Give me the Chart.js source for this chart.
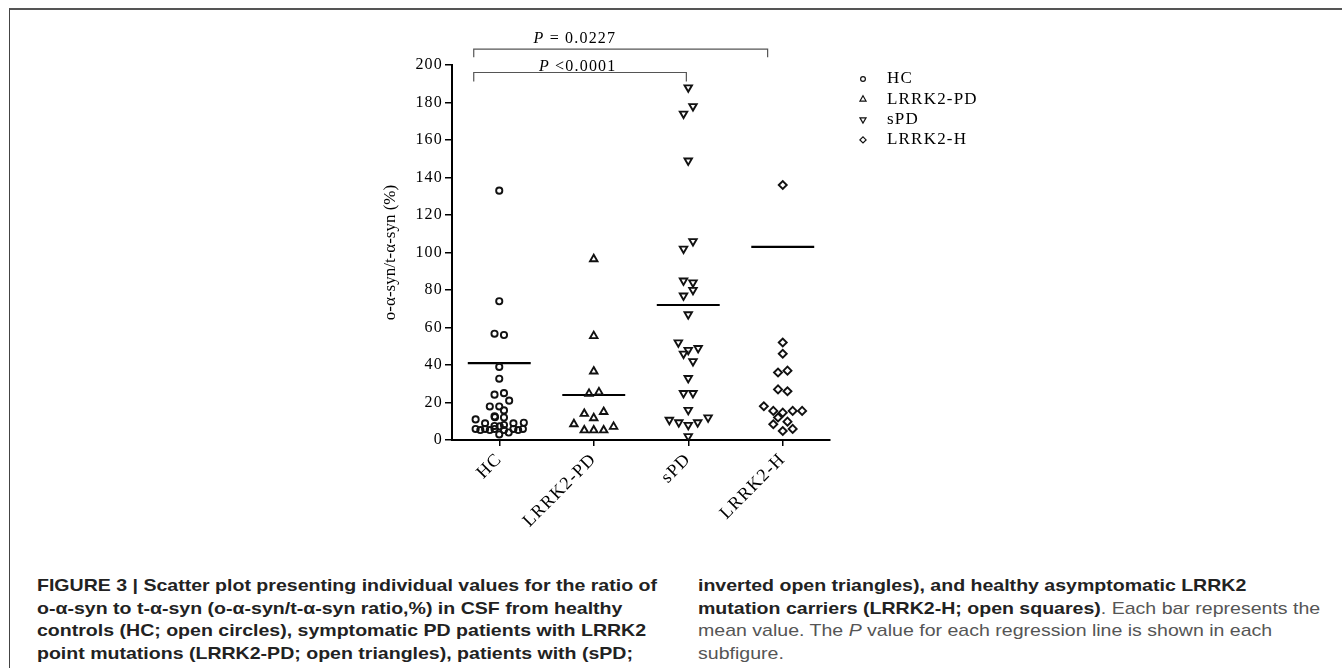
<!DOCTYPE html>
<html>
<head>
<meta charset="utf-8">
<script src="https://cdn.jsdelivr.net/npm/chart.js@4.4.1/dist/chart.umd.min.js"></script>
<style>
  html, body { margin: 0; padding: 0; background: #fff; overflow: hidden; }
  body { width: 1342px; height: 668px; position: relative; }
  #frame { position: absolute; left: 9px; top: 8px; width: 1400px; height: 700px;
           border-top: 2px solid #555; border-left: 1px solid #444; }
  #chartBox { position: absolute; left: 0; top: 0; }
  .cap { position: absolute; top: 575px; white-space: nowrap; display: inline-block;
         font-family: "Liberation Sans Narrow", "Liberation Sans", Arial, sans-serif;
         font-size: 17px; line-height: 22.5px; color: #555; transform-origin: 0 0; }
  .cap b { color: #222; }
</style>
</head>
<body>
<div id="frame"></div>
<div id="chartBox"><canvas id="scatterChart" width="1342" height="545"></canvas></div>

<div class="cap" id="cap1" style="left:37px">
<b>FIGURE 3 | Scatter plot presenting individual values for the ratio of</b><br>
<b>o-α-syn to t-α-syn (o-α-syn/t-α-syn ratio,%) in CSF from healthy</b><br>
<b>controls (HC; open circles), symptomatic PD patients with LRRK2</b><br>
<b>point mutations (LRRK2-PD; open triangles), patients with (sPD;</b>
</div>
<div class="cap" id="cap2" style="left:698px">
<b>inverted open triangles), and healthy asymptomatic LRRK2</b><br>
<b>mutation carriers (LRRK2-H; open squares)</b>. Each bar represents the<br>
mean value. The <i>P</i> value for each regression line is shown in each<br>
subfigure.
</div>

<script>
// values
var categories = ['HC', 'LRRK2-PD', 'sPD', 'LRRK2-H'];

var hcValues = [133, 74, 56.7, 56, 39, 32.7, 24.2, 25, 21, 17.9, 17.9, 15.8, 12.6, 12.2, 12, 11,
    8.9, 8.9, 9.2, 8, 7.5, 7.3, 5.9, 5.3, 5.9, 5.3, 5.9, 3, 5.3, 4, 5.9, 5.3, 5.9];
var hcJitter = [0, 0, -0.05, 0.05, 0, 0, -0.05, 0.05, 0.105, -0.1, 0, 0.05, -0.05, -0.045, 0.05, -0.25,
    -0.15, 0.15, 0.26, 0.05, -0.05, 0.005, -0.25, -0.2, -0.15, -0.1, -0.05, 0, 0.05, 0.1, 0.15, 0.2, 0.25];

var lrrk2pdValues = [96.5, 55.5, 36.6, 24.7, 25.5, 14, 11.7, 15, 8.5, 5.2, 5.2, 5.2, 7.1];
var lrrk2pdJitter = [0, 0, 0, -0.05, 0.055, -0.1, 0, 0.105, -0.21, -0.1, 0, 0.105, 0.21];

var spdValues = [188, 178, 174, 149, 106, 102, 85, 84, 80, 77, 67, 52, 49, 48, 46, 42, 33, 25, 25,
    16, 12, 10.7, 9.4, 8, 9.4, 2];
var spdJitter = [0, 0.05, -0.05, 0, 0.05, -0.05, -0.05, 0.05, 0.05, -0.05, 0, -0.105, 0.105, 0, -0.05,
    0.05, 0, -0.05, 0.05, 0, 0.21, -0.2, -0.1, 0, 0.1, 0];

var lrrk2hValues = [136, 52, 46, 36, 37, 27, 26, 18, 15.5, 14.6, 15.5, 15.5, 12, 8.4, 9.8, 4.8, 5.9];
var lrrk2hJitter = [0, 0, 0, -0.05, 0.05, -0.05, 0.05, -0.2, -0.1, 0, 0.105, 0.205, -0.05, -0.1, 0.05, 0, 0.105];

var meanValues = [41, 24, 72, 103];

var yTickValues = [0, 20, 40, 60, 80, 100, 120, 140, 160, 180, 200];

// group comparisons shown above the plot
var comparisons = [
    { from: 0.73, to: 3.84, level: 208.5, drop: 4.3, pText: ' = 0.0227', labelAt: 1.8, labelY: 211.5 },
    { from: 0.73, to: 2.98, level: 196, drop: 4.8, pText: ' <0.0001', labelAt: 1.83, labelY: 196.8 }
];

function points(values, jitter, group) {
    return values.map(function (v, i) { return { x: group + jitter[i], y: v }; });
}

var meanSegments = [];
meanValues.forEach(function (m, i) {
    meanSegments.push({ x: i + 1 - 0.333, y: m });
    meanSegments.push({ x: i + 1 + 0.333, y: m });
    meanSegments.push({ x: i + 1.5, y: null });
});

var serif = '"Liberation Serif", "Times New Roman", serif';

var figureExtras = {
    id: 'figureExtras',
    beforeDraw: function (chart) { chart.ctx.letterSpacing = '0px'; },
    afterDatasetsDraw: function (chart) { chart.ctx.letterSpacing = '1.2px'; },
    afterDraw: function (chart) {
        var ctx = chart.ctx;
        var xs = chart.scales.x, ys = chart.scales.y;
        ctx.save();

        // brackets with P values
        comparisons.forEach(function (c) {
            var x1 = xs.getPixelForValue(c.from), x2 = xs.getPixelForValue(c.to);
            var yTop = ys.getPixelForValue(c.level), yEnd = ys.getPixelForValue(c.level - c.drop);
            ctx.strokeStyle = '#555';
            ctx.lineWidth = 1.2;
            ctx.beginPath();
            ctx.moveTo(x1, yEnd); ctx.lineTo(x1, yTop); ctx.lineTo(x2, yTop); ctx.lineTo(x2, yEnd);
            ctx.stroke();

            ctx.fillStyle = '#000';
            ctx.textAlign = 'left';
            ctx.textBaseline = 'alphabetic';
            ctx.font = 'italic 16px ' + serif;
            var w1 = ctx.measureText('P').width;
            ctx.font = '16px ' + serif;
            var w2 = ctx.measureText(c.pText).width;
            var tx = xs.getPixelForValue(c.labelAt) - (w1 + w2) / 2;
            var ty = ys.getPixelForValue(c.labelY);
            ctx.font = 'italic 16px ' + serif;
            ctx.fillText('P', tx, ty);
            ctx.font = '16px ' + serif;
            ctx.fillText(c.pText, tx + w1, ty);
        });

        // legend
        var lx = chart.chartArea.right + 33;
        var ly = chart.chartArea.top + 14;
        var legendSizes = [2.4, 3.5, 3.5, 3.1];
        chart.data.datasets.forEach(function (ds, i) {
            if (ds.type === 'line') return;
            var yy = ly + i * 20.3;
            ctx.strokeStyle = '#111';
            ctx.fillStyle = '#fff';
            Chart.helpers.drawPoint(ctx, {
                pointStyle: ds.pointStyle, rotation: ds.rotation || 0,
                radius: legendSizes[i], borderWidth: 1.6
            }, lx, yy);
            ctx.fillStyle = '#000';
            ctx.font = '17px ' + serif;
            ctx.textAlign = 'left';
            ctx.textBaseline = 'middle';
            ctx.fillText(ds.label, lx + 24, yy);
        });

        ctx.restore();
        ctx.letterSpacing = '0px';
    }
};

var scatterStyle = {
    borderColor: '#111',
    backgroundColor: 'rgba(0,0,0,0)',
    borderWidth: 1.9,
    showLine: false
};

var ctx = document.getElementById('scatterChart');
var myChart = new Chart(ctx.getContext('2d'), {
    type: 'scatter',
    data: {
        datasets: [
            Object.assign({ label: categories[0], data: points(hcValues, hcJitter, 1),
                pointStyle: 'circle', pointRadius: 3.1 }, scatterStyle),
            Object.assign({ label: categories[1], data: points(lrrk2pdValues, lrrk2pdJitter, 2),
                pointStyle: 'triangle', pointRadius: 4.3 }, scatterStyle),
            Object.assign({ label: categories[2], data: points(spdValues, spdJitter, 3),
                pointStyle: 'triangle', rotation: 180, pointRadius: 4.3 }, scatterStyle),
            Object.assign({ label: categories[3], data: points(lrrk2hValues, lrrk2hJitter, 4),
                pointStyle: 'rectRot', pointRadius: 4 }, scatterStyle),
            {
                type: 'line',
                label: 'mean',
                data: meanSegments,
                borderColor: '#000',
                borderWidth: 2.2,
                pointRadius: 0,
                spanGaps: false
            }
        ]
    },
    options: {
        responsive: false,
        devicePixelRatio: 1,
        animation: false,
        layout: { padding: { left: 380, right: 512, top: 65, bottom: 10 } },
        plugins: {
            legend: { display: false },
            tooltip: { enabled: false }
        },
        scales: {
            x: {
                type: 'linear',
                min: 0.5,
                max: 4.5,
                afterBuildTicks: function (scale) {
                    scale.ticks = categories.map(function (c, i) { return { value: i + 1 }; });
                },
                afterFit: function (scale) { scale.height = 95; },
                border: { display: true, color: '#000', width: 2 },
                grid: { display: true, drawOnChartArea: false, drawTicks: true, tickLength: 6,
                        color: '#000', lineWidth: 1.5 },
                ticks: {
                    z: 1,
                    minRotation: 45,
                    maxRotation: 45,
                    padding: 3,
                    color: '#000',
                    font: { family: serif, size: 18 },
                    callback: function (value) { return categories[value - 1]; }
                }
            },
            y: {
                min: 0,
                max: 200,
                afterBuildTicks: function (scale) {
                    scale.ticks = yTickValues.map(function (v) { return { value: v }; });
                },
                afterFit: function (scale) { scale.width = 72; },
                border: { display: true, color: '#000', width: 2 },
                grid: { display: true, drawOnChartArea: false, drawTicks: true, tickLength: 7,
                        color: '#000', lineWidth: 1.5 },
                title: {
                    display: true,
                    text: 'o-α-syn/t-α-syn (%)',
                    color: '#000',
                    padding: 0,
                    font: { family: serif, size: 17 }
                },
                ticks: {
                    z: 1,
                    padding: 2,
                    color: '#000',
                    font: { family: serif, size: 16 }
                }
            }
        }
    },
    plugins: [figureExtras]
});

// fit the condensed caption to its column width
function fitCaption() {
    var cap1 = document.getElementById('cap1');
    cap1.style.transform = 'none';
    var natural = cap1.getBoundingClientRect().width;
    var s = 620 / natural;
    document.querySelectorAll('.cap').forEach(function (c) {
        c.style.transform = 'scaleX(' + s + ')';
    });
}
fitCaption();
window.addEventListener('load', fitCaption);
</script>
</body>
</html>
